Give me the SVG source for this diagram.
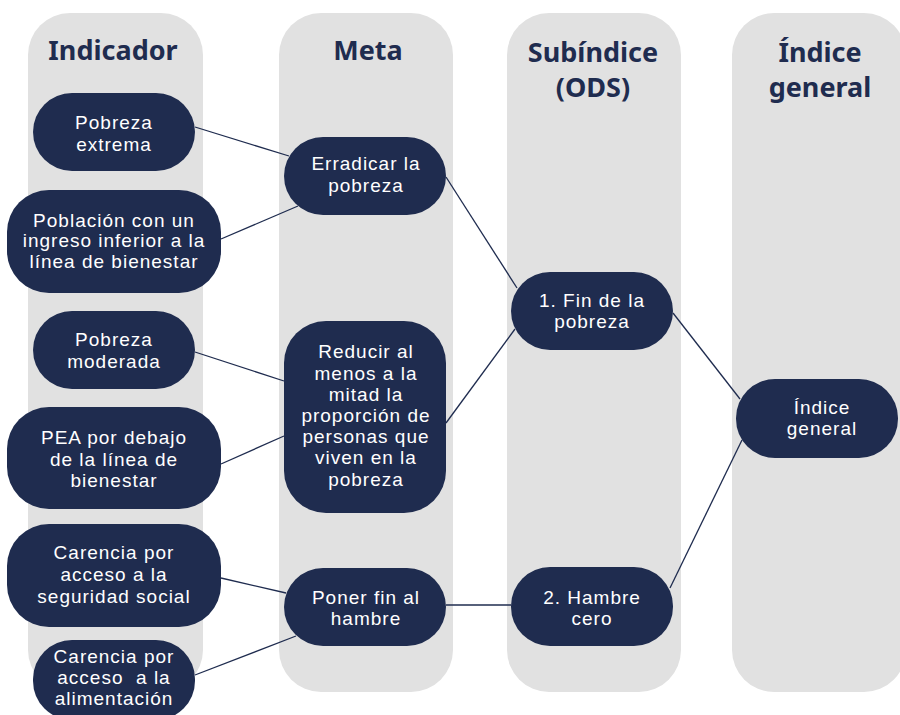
<svg xmlns="http://www.w3.org/2000/svg" width="900" height="715" viewBox="0 0 900 715">
<style>
.col{fill:#e1e1e1}
.hdr{font-family:"Noto Sans","Open Sans",sans-serif;font-weight:bold;font-size:27px;fill:#1f2c4f;text-anchor:middle}
.node rect{fill:#1f2c4f}
.node text{font-family:"Liberation Sans",Arial,sans-serif;font-size:19px;fill:#ffffff;text-anchor:middle;letter-spacing:1px}
.edges line{stroke:#1f2c4f;stroke-width:1.3}
</style>
<rect width="900" height="715" fill="#ffffff"/>
<g id="columns">
<rect class="col" x="28" y="13" width="175" height="679" rx="42"/>
<rect class="col" x="279" y="13" width="174" height="679" rx="42"/>
<rect class="col" x="507" y="13" width="174" height="679" rx="42"/>
<rect class="col" x="732" y="13" width="174" height="679" rx="42"/>
</g>
<g id="headers">
<text class="hdr" x="113" y="60">Indicador</text>
<text class="hdr" x="368" y="60">Meta</text>
<text class="hdr" x="593" y="62">Subíndice</text>
<text class="hdr" x="593" y="97">(ODS)</text>
<text class="hdr" x="820" y="62">Índice</text>
<text class="hdr" x="820" y="97">general</text>
</g>
<g class="edges" id="connectors">
<line x1="195" y1="127" x2="289" y2="156"/>
<line x1="221" y1="239" x2="298" y2="206"/>
<line x1="446" y1="177" x2="517" y2="288"/>
<line x1="195" y1="352" x2="284" y2="381"/>
<line x1="221" y1="464" x2="284" y2="436"/>
<line x1="446" y1="423" x2="515" y2="329"/>
<line x1="221" y1="578" x2="286" y2="593"/>
<line x1="195" y1="675" x2="296" y2="636"/>
<line x1="446" y1="605" x2="511" y2="605"/>
<line x1="673" y1="313" x2="740" y2="399"/>
<line x1="670" y1="588" x2="742" y2="440"/>
</g>
<g class="node" id="n-pobreza-extrema">
<rect x="33" y="93" width="162" height="78" rx="39"/>
<text x="114" y="129">Pobreza</text>
<text x="114" y="151">extrema</text>
</g>
<g class="node" id="n-poblacion">
<rect x="7" y="190" width="214" height="103" rx="42"/>
<text x="114" y="227">Población con un</text>
<text x="114" y="247">ingreso inferior a la</text>
<text x="114" y="268">línea de bienestar</text>
</g>
<g class="node" id="n-pobreza-moderada">
<rect x="33" y="311" width="162" height="78" rx="39"/>
<text x="114" y="346">Pobreza</text>
<text x="114" y="368">moderada</text>
</g>
<g class="node" id="n-pea">
<rect x="7" y="407" width="214" height="102" rx="42"/>
<text x="114" y="444">PEA por debajo</text>
<text x="114" y="466">de la línea de</text>
<text x="114" y="487">bienestar</text>
</g>
<g class="node" id="n-carencia-ss">
<rect x="7" y="524" width="214" height="103" rx="42"/>
<text x="114" y="559">Carencia por</text>
<text x="114" y="581">acceso a la</text>
<text x="114" y="603">seguridad social</text>
</g>
<g class="node" id="n-carencia-alim">
<rect x="33" y="640" width="162" height="80" rx="39"/>
<text x="114" y="663">Carencia por</text>
<text x="114" y="684">acceso&#160; a la</text>
<text x="114" y="705">alimentación</text>
</g>
<g class="node" id="n-erradicar">
<rect x="284" y="137" width="162" height="78" rx="39"/>
<text x="366" y="170">Erradicar la</text>
<text x="366" y="192">pobreza</text>
</g>
<g class="node" id="n-reducir">
<rect x="284" y="321" width="162" height="192" rx="42"/>
<text x="366" y="358">Reducir al</text>
<text x="366" y="380">menos a la</text>
<text x="366" y="401">mitad la</text>
<text x="366" y="422">proporción de</text>
<text x="366" y="443">personas que</text>
<text x="366" y="464">viven en la</text>
<text x="366" y="486">pobreza</text>
</g>
<g class="node" id="n-poner-fin">
<rect x="284" y="568" width="162" height="78" rx="39"/>
<text x="366" y="604">Poner fin al</text>
<text x="366" y="625">hambre</text>
</g>
<g class="node" id="n-fin-pobreza">
<rect x="511" y="272" width="162" height="78" rx="39"/>
<text x="592" y="307">1. Fin de la</text>
<text x="592" y="328">pobreza</text>
</g>
<g class="node" id="n-hambre-cero">
<rect x="511" y="567" width="162" height="79" rx="39"/>
<text x="592" y="604">2. Hambre</text>
<text x="592" y="625">cero</text>
</g>
<g class="node" id="n-indice-general">
<rect x="736" y="379" width="162" height="79" rx="39"/>
<text x="822" y="414">Índice</text>
<text x="822" y="435">general</text>
</g>
</svg>
